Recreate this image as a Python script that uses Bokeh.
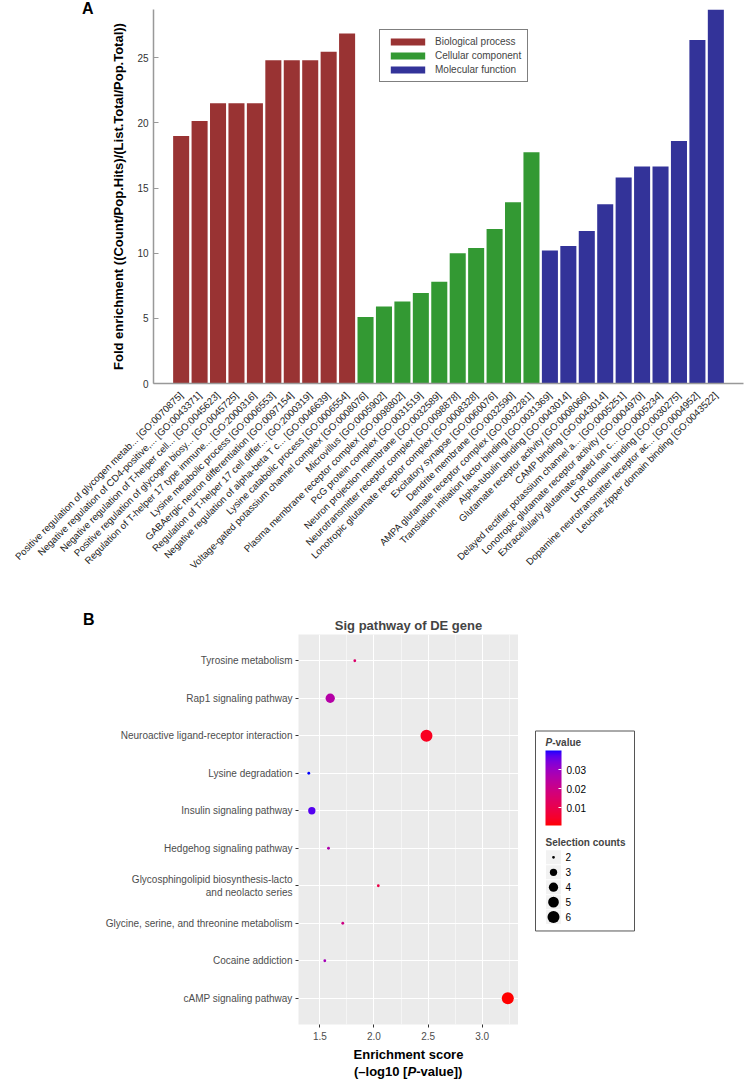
import math
from bokeh.plotting import figure
from bokeh.models import (FactorRange, Range1d, Legend, LegendItem, ColorBar, LinearColorMapper,
                          FixedTicker, Label, ColumnDataSource, NumeralTickFormatter, Div)
from bokeh.layouts import column, row
from bokeh.transform import linear_cmap
from bokeh.core.properties import value
from bokeh.embed import file_html
from bokeh.resources import INLINE

FONT = "Liberation Sans"

# ---------------- Panel A data ----------------
bp_terms = [
    "Positive regulation of glycogen metab... [GO:0070875]",
    "Negative regulation of CD4-positive,... [GO:0043371]",
    "Negative regulation of T-helper cell... [GO:0045623]",
    "Positive regulation of glycogen biosy... [GO:0045725]",
    "Regulation of T-helper 17 type immune... [GO:2000316]",
    "Lysine metabolic process [GO:0006553]",
    "GABAergic neuron differentiation [GO:0097154]",
    "Regulation of T-helper 17 cell differ... [GO:2000319]",
    "Negative regulation of alpha-beta T c... [GO:0046639]",
    "Lysine catabolic process [GO:0006554]",
]
bp_values = [19.0, 20.15, 21.5, 21.5, 21.5, 24.8, 24.8, 24.8, 25.45, 26.85]

cc_terms = [
    "Voltage-gated potassium channel complex [GO:0008076]",
    "Microvillus [GO:0005902]",
    "Plasma membrane receptor complex [GO:0098802]",
    "PcG protein complex [GO:0031519]",
    "Neuron projection membrane [GO:0032589]",
    "Neurotransmitter receptor complex [GO:0098878]",
    "Lonotropic glutamate receptor complex [GO:0008328]",
    "Excitatory synapse [GO:0060076]",
    "Dendrite membrane [GO:0032590]",
    "AMPA glutamate receptor complex [GO:0032281]",
]
cc_values = [5.1, 5.9, 6.3, 6.95, 7.8, 10.0, 10.4, 11.85, 13.9, 17.75]

mf_terms = [
    "Translation initiation factor binding [GO:0031369]",
    "Alpha-tubulin binding [GO:0043014]",
    "Glutamate receptor activity [GO:0008066]",
    "CAMP binding [GO:0043014]",
    "Delayed rectifier potassium channel a... [GO:0005251]",
    "Lonotropic glutamate receptor activity [GO:0004970]",
    "Extracellularly glutamate-gated ion c... [GO:0005234]",
    "LRR domain binding [GO:0030275]",
    "Dopamine neurotransmitter receptor ac... [GO:0004952]",
    "Leucine zipper domain binding [GO:0043522]",
]
mf_values = [10.2, 10.55, 11.7, 13.75, 15.8, 16.65, 16.65, 18.6, 26.35, 28.7]

categories = ["Biological process", "Cellular component", "Molecular function"]
category_colors = ["#993333", "#339933", "#333399"]
a_y_ticks = [0, 5, 10, 15, 20, 25]

# ---------------- Panel B data ----------------
pathways = [
    "Tyrosine metabolism",
    "Rap1 signaling pathway",
    "Neuroactive ligand-receptor interaction",
    "Lysine degradation",
    "Insulin signaling pathway",
    "Hedgehog signaling pathway",
    "Glycosphingolipid biosynthesis-lacto\nand neolacto series",
    "Glycine, serine, and threonine metabolism",
    "Cocaine addiction",
    "cAMP signaling pathway",
]
enrichment_scores = [1.823, 1.596, 2.485, 1.398, 1.426, 1.58, 2.04, 1.712, 1.546, 3.236]
selection_counts = [2, 4, 6, 2, 3, 2, 2, 2, 2, 6]
b_x_ticks = [1.5, 2.0, 2.5, 3.0]
b_x_minor = [1.25, 1.75, 2.25, 2.75, 3.25]
pvalue_ticks = [0.01, 0.02, 0.03]
legend_counts = [2, 3, 4, 5, 6]

pvalues = [10 ** (-s) for s in enrichment_scores]
size_map = {2: 2.8, 3: 7.3, 4: 9.3, 5: 10.7, 6: 12.0}


# ---------- red -> blue gradient interpolated in CIELAB (like ggplot) ----------
def _hex_to_lab(h):
    rgb = [int(h[i:i + 2], 16) / 255 for i in (1, 3, 5)]
    lin = [c / 12.92 if c <= 0.04045 else ((c + 0.055) / 1.055) ** 2.4 for c in rgb]
    r, g, b = lin
    X = (0.4124 * r + 0.3576 * g + 0.1805 * b) / 0.95047
    Y = (0.2126 * r + 0.7152 * g + 0.0722 * b)
    Z = (0.0193 * r + 0.1192 * g + 0.9505 * b) / 1.08883
    f = lambda t: t ** (1 / 3) if t > (6 / 29) ** 3 else t / (3 * (6 / 29) ** 2) + 4 / 29
    fx, fy, fz = f(X), f(Y), f(Z)
    return (116 * fy - 16, 500 * (fx - fy), 200 * (fy - fz))


def _lab_to_hex(L, a, b):
    fy = (L + 16) / 116
    fx = fy + a / 500
    fz = fy - b / 200
    finv = lambda t: t ** 3 if t > 6 / 29 else 3 * (6 / 29) ** 2 * (t - 4 / 29)
    X, Y, Z = finv(fx) * 0.95047, finv(fy), finv(fz) * 1.08883
    r = 3.2406 * X - 1.5372 * Y - 0.4986 * Z
    g = -0.9689 * X + 1.8758 * Y + 0.0415 * Z
    bb = 0.0557 * X - 0.2040 * Y + 1.0570 * Z
    out = []
    for c in (r, g, bb):
        c = min(max(c, 0.0), 1.0)
        c = 12.92 * c if c <= 0.0031308 else 1.055 * c ** (1 / 2.4) - 0.055
        out.append(int(round(min(max(c, 0), 1) * 255)))
    return "#%02x%02x%02x" % tuple(out)


lo_lab, hi_lab = _hex_to_lab("#ff0000"), _hex_to_lab("#0000ff")
palette = [_lab_to_hex(*[lo_lab[k] + (hi_lab[k] - lo_lab[k]) * i / 255 for k in range(3)]) for i in range(256)]

letter_style = {"font-family": FONT, "font-weight": "bold", "font-size": "16px",
                "line-height": "18px", "color": "black", "position": "relative", "z-index": "10"}

# ======================= Panel A =======================
A_W, A_H = 744, 603
A_LEFT, A_TOP, A_BOTTOM = 153, 9, 220
all_terms = bp_terms + cc_terms + mf_terms
pa = figure(width=A_W, height=A_H,
            x_range=FactorRange(factors=all_terms, range_padding=1.0, range_padding_units="absolute"),
            y_range=Range1d(0, 28.7),
            output_backend="svg", toolbar_location=None,
            min_border_left=A_LEFT, min_border_right=1, min_border_top=A_TOP, min_border_bottom=A_BOTTOM)
pa.outline_line_color = None
pa.border_fill_color = None
pa.background_fill_color = None
pa.xgrid.visible = False
pa.ygrid.visible = False

items = []
for cat, col, terms, vals in zip(categories, category_colors,
                                 [bp_terms, cc_terms, mf_terms], [bp_values, cc_values, mf_values]):
    src = ColumnDataSource(dict(x=terms, top=vals))
    r = pa.vbar(x="x", top="top", width=0.87, source=src, fill_color=col, line_color=None)
    items.append(LegendItem(label=cat, renderers=[r]))

legend = Legend(items=items, location=(226, 301), border_line_color="black", border_line_width=1,
                padding=6, spacing=3, glyph_width=43, glyph_height=9, label_height=9,
                label_standoff=6, label_text_font_size="10px", label_text_font=FONT, margin=0,
                background_fill_color="white", background_fill_alpha=1.0)
pa.add_layout(legend)

ya = pa.yaxis[0]
ya.ticker = FixedTicker(ticks=a_y_ticks)
ya.axis_line_color = "#999999"
ya.axis_line_width = 1.5
ya.major_tick_in = 5
ya.major_tick_out = 0
ya.major_tick_line_color = "#999999"
ya.minor_tick_line_color = None
ya.major_label_text_font = FONT
ya.major_label_text_font_size = "10px"
ya.major_label_text_color = "#333333"
ya.major_label_standoff = 5
ya.axis_label = "Fold enrichment ((Count/Pop.Hits)/(List.Total/Pop.Total))"
ya.axis_label_text_font = FONT
ya.axis_label_text_font_style = "bold"
ya.axis_label_text_font_size = "13px"
ya.axis_label_text_color = "black"
ya.axis_label_standoff = 8

xa = pa.xaxis[0]
xa.major_label_orientation = math.pi / 4
xa.major_label_text_font = FONT
xa.major_label_text_font_size = "9.7px"
xa.major_label_text_color = "#222222"
xa.major_tick_line_color = None
xa.axis_line_color = "#999999"
xa.axis_line_width = 1.5
xa.major_label_standoff = 4

# panel letter "A" overlaid on the (transparent) top-left border of panel A
div_a = Div(text="A", width=120, height=20, margin=(0, 0, -20, 0),
            styles=dict(letter_style, **{"padding-left": "82px", "padding-top": "0px"}))

# ======================= Panel B =======================
B_W, B_H = 518, 461
B_LEFT, B_TOP, B_BOTTOM = 298, 31, 38
src_b = ColumnDataSource(dict(pathway=pathways, score=enrichment_scores, pvalue=pvalues,
                              count=selection_counts, size=[size_map[c] for c in selection_counts]))
p_lo, p_hi = min(pvalues), max(pvalues)

pb = figure(width=B_W, height=B_H, x_range=Range1d(1.303, 3.335),
            y_range=FactorRange(factors=pathways[::-1], range_padding=0.2, range_padding_units="absolute"),
            output_backend="svg", toolbar_location=None,
            min_border_left=B_LEFT, min_border_right=0, min_border_top=B_TOP, min_border_bottom=B_BOTTOM)
pb.background_fill_color = "#EBEBEB"
pb.border_fill_color = None
pb.outline_line_color = None
pb.title.text = "Sig pathway of DE gene"
pb.title.align = "center"
pb.title.text_font = FONT
pb.title.text_font_size = "13px"
pb.title.text_font_style = "bold"
pb.title.standoff = 4

pb.scatter(x="score", y="pathway", size="size", source=src_b, line_color=None,
           fill_color=linear_cmap("pvalue", palette, p_lo, p_hi))

xb = pb.xaxis[0]
xb.ticker = FixedTicker(ticks=b_x_ticks, minor_ticks=b_x_minor)
xb.formatter = NumeralTickFormatter(format="0.0")
xb.axis_line_color = None
xb.major_tick_out = 3
xb.major_tick_in = 0
xb.major_tick_line_color = "#333333"
xb.minor_tick_line_color = None
xb.major_label_text_font = FONT
xb.major_label_text_font_size = "10px"
xb.major_label_text_color = "#4D4D4D"
xb.major_label_standoff = 3
xb.axis_label = "Enrichment score"
xb.axis_label_text_font = FONT
xb.axis_label_text_font_style = "bold"
xb.axis_label_text_font_size = "13px"
xb.axis_label_text_color = "black"
xb.axis_label_standoff = 4

yb = pb.yaxis[0]
yb.axis_line_color = None
yb.major_tick_out = 3
yb.major_tick_in = 0
yb.major_tick_line_color = "#333333"
yb.major_label_text_font = FONT
yb.major_label_text_font_size = "10px"
yb.major_label_text_color = "#4D4D4D"
yb.major_label_standoff = 3

pb.xgrid.grid_line_color = "white"
pb.xgrid.grid_line_width = 1
pb.xgrid.minor_grid_line_color = "white"
pb.xgrid.minor_grid_line_width = 0.5
pb.ygrid.grid_line_color = "white"
pb.ygrid.grid_line_width = 1

div_b = Div(text="B", width=120, height=28, margin=(0, 0, -28, 0),
            styles=dict(letter_style, **{"padding-left": "83px", "padding-top": "8px"}))

# second line of the x-axis title (with italic P)
b_center = B_LEFT + (B_W - B_LEFT) / 2
div_line2 = Div(text="(\u2013log10 [<i>P</i>-value])", width=744, height=15, margin=0,
                styles={"font-family": FONT, "font-weight": "bold", "font-size": "13px",
                        "line-height": "15px", "color": "black", "text-align": "left",
                        "padding-left": "%dpx" % round(b_center - 54)})

# ---------------- legend panel for B (frame aligned with panel B frame) ----------------
b_frame_h = B_H - B_TOP - B_BOTTOM
L_W = 744 - B_W
pl = figure(width=L_W, height=B_H, x_range=Range1d(-2, 101), y_range=Range1d(b_frame_h, 0),
            x_axis_location=None, y_axis_location=None,
            output_backend="svg", toolbar_location=None,
            min_border_left=15, min_border_right=L_W - 15 - 103, min_border_top=B_TOP, min_border_bottom=B_BOTTOM)
pl.grid.visible = False
pl.outline_line_color = None
pl.background_fill_color = None
pl.border_fill_color = None
box_top = 731 - 634
pl.quad(left=[0], right=[99], top=[box_top], bottom=[932 - 634], fill_color=None,
        line_color="#555555", line_width=1)
pl.extra_y_ranges = {"cnt": Range1d(2 + (b_frame_h - box_top - 127) / 15, 2 - (box_top + 127) / 15)}

pl.add_layout(Label(x=10, y=box_top + 12, text="P", text_font=FONT, text_font_style="bold italic",
                    text_font_size="10px", text_baseline="middle"))
pl.add_layout(Label(x=16.7, y=box_top + 12, text="-value", text_font=FONT, text_font_style="bold",
                    text_font_size="10px", text_baseline="middle"))
pl.add_layout(Label(x=10, y=box_top + 112, text="Selection counts", text_font=FONT, text_font_style="bold",
                    text_font_size="10px", text_baseline="middle"))

mapper = LinearColorMapper(palette=palette, low=p_lo, high=p_hi)
cb = ColorBar(color_mapper=mapper, width=16, height=75, location=(12, b_frame_h - box_top - 96), padding=0,
              ticker=FixedTicker(ticks=pvalue_ticks), major_label_text_font=FONT,
              major_label_text_font_size="10px", major_label_text_color="black",
              major_tick_line_color="white", major_tick_in=3, major_tick_out=0,
              bar_line_color=None, border_line_color=None, background_fill_color=None,
              label_standoff=5, margin=0)
pl.add_layout(cb)

src_l = ColumnDataSource(dict(count=legend_counts, size=[size_map[c] for c in legend_counts],
                              label=[str(c) for c in legend_counts]))
pl.rect(x=18, y="count", width=15, height=14, width_units="screen", height_units="screen",
        fill_color="#F2F2F2", line_color=None, source=src_l, y_range_name="cnt")
pl.scatter(x=18, y="count", size="size", fill_color="black", line_color=None,
           source=src_l, y_range_name="cnt")
pl.text(x=30, y="count", text="label", text_baseline="middle", text_font_size="10px",
        text_font=value(FONT), source=src_l, y_range_name="cnt")

layout = column(div_a, pa, div_b, row(pb, pl), div_line2)
open("out.html", "w").write(file_html(layout, INLINE))
